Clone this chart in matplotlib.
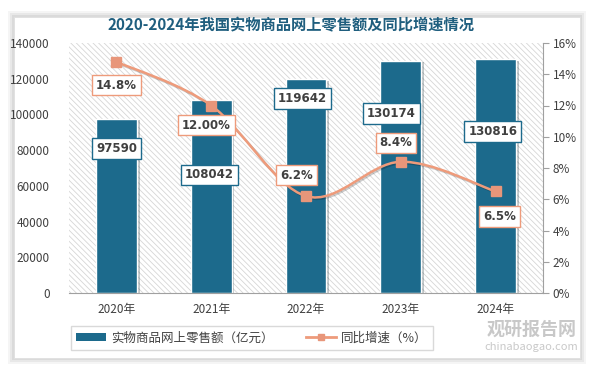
import matplotlib
matplotlib.use("Agg")
import matplotlib.pyplot as plt
from matplotlib.path import Path
from matplotlib.patches import PathPatch, FancyBboxPatch
import matplotlib.patheffects as pe
from matplotlib.lines import Line2D
from matplotlib.patches import Patch

plt.rcParams['font.family'] = ['Noto Sans CJK SC', 'DejaVu Sans']
plt.rcParams['hatch.linewidth'] = 0.6

years = ['2020年', '2021年', '2022年', '2023年', '2024年']
sales = [97590, 108042, 119642, 130174, 130816]
growth = [14.8, 12.0, 6.2, 8.4, 6.5]
growth_labels = ['14.8%', '12.00%', '6.2%', '8.4%', '6.5%']

# label placement (data units)
sales_lab_pos = [(0.0, 81000), (0.98, 66100), (1.96, 108900), (2.9, 100600), (3.97, 90500)]
growth_lab_pos = [(0.0, 13.3), (0.95, 10.75), (1.9, 7.55), (2.95, 9.6), (4.04, 4.9)]

bar_c = '#1C6A8C'
line_c = '#EE9B7B'
txt_c = '#404040'

fig = plt.figure(figsize=(5.94, 3.67), dpi=100)
fig.patch.set_facecolor('white')

# card with soft shadow
for i, a in enumerate([0.04, 0.05, 0.06]):
    d = (3 - i) * 2
    fig.patches.append(FancyBboxPatch((14 - d, 9 - d), 566 + 2 * d, 341 + 2 * d,
                                      boxstyle='square,pad=0', transform=None,
                                      facecolor='black', alpha=a, edgecolor='none', zorder=0))
fig.patches.append(FancyBboxPatch((14, 9), 566, 341, boxstyle='square,pad=0', transform=None,
                                  facecolor='white', edgecolor='#E0E0E0', lw=0.6, zorder=0.5))

ax = fig.add_axes([69 / 594, 1 - 293 / 367, 474 / 594, 250 / 367])
ax.set_zorder(1)
ax.patch.set_facecolor('white')
ax.patch.set_hatch('\\\\\\\\\\\\')
ax.patch.set_edgecolor('#D6D6D6')
ax.patch.set_linewidth(0)

x = list(range(len(years)))
bars = ax.bar(x, sales, width=0.43, color=bar_c, edgecolor='white', linewidth=1.0, zorder=2)
for b in bars:
    b.set_path_effects([pe.SimplePatchShadow(offset=(2, -1), alpha=0.25), pe.Normal()])

ax.set_xlim(-0.5, 4.5)
ax.set_ylim(0, 140000)
ax.set_yticks(range(0, 140001, 20000))
ax.set_xticks(x)
ax.set_xticklabels(years)
ax.tick_params(axis='y', length=0, labelsize=8.5, labelcolor=txt_c, pad=14)
ax.tick_params(axis='x', length=0, labelsize=8.5, labelcolor=txt_c, pad=7)
for s in ['top', 'right', 'left']:
    ax.spines[s].set_visible(False)
ax.spines['bottom'].set_color('#A0A0A0')

ax2 = ax.twinx()
ax2.set_ylim(0, 16)
ax2.set_yticks(range(0, 17, 2))
ax2.set_yticklabels([f'{v}%' for v in range(0, 17, 2)])
ax2.tick_params(axis='y', labelsize=8.5, labelcolor=txt_c, color='#A0A0A0', length=4, pad=3)
for s in ['top', 'left', 'bottom']:
    ax2.spines[s].set_visible(False)
ax2.spines['right'].set_color('#A0A0A0')

# smooth line through points (Catmull-Rom -> cubic Bezier)
pts = list(zip(x, growth))
verts = [pts[0]]
codes = [Path.MOVETO]
n = len(pts)
for i in range(n - 1):
    p0 = pts[i - 1] if i > 0 else pts[i]
    p1 = pts[i]
    p2 = pts[i + 1]
    p3 = pts[i + 2] if i + 2 < n else pts[i + 1]
    c1 = (p1[0] + (p2[0] - p0[0]) / 6, p1[1] + (p2[1] - p0[1]) / 6)
    c2 = (p2[0] - (p3[0] - p1[0]) / 6, p2[1] - (p3[1] - p1[1]) / 6)
    verts += [c1, c2, p2]
    codes += [Path.CURVE4] * 3
ax2.add_patch(PathPatch(Path(verts, codes), facecolor='none', edgecolor=line_c, lw=1.8, zorder=3,
                        path_effects=[pe.SimpleLineShadow(offset=(1, -1), alpha=0.2), pe.Normal()]))
ax2.plot(x, growth, linestyle='none', marker='s', markersize=7, color='#E8967A', zorder=4)

for (px, py), v in zip(sales_lab_pos, sales):
    ax.text(px, py, str(v), ha='center', va='center', fontsize=8.5, fontweight='bold', color=txt_c,
            family='DejaVu Sans', zorder=5,
            bbox=dict(boxstyle='square,pad=0.32', facecolor='white', edgecolor=bar_c, lw=1.0))
for (px, py), t in zip(growth_lab_pos, growth_labels):
    ax2.text(px, py, t, ha='center', va='center', fontsize=8.5, fontweight='bold', color=txt_c,
             family='DejaVu Sans', zorder=5,
             bbox=dict(boxstyle='square,pad=0.32', facecolor='white', edgecolor=line_c, lw=1.0))

fig.text(0.49, 1 - 25 / 367, '2020-2024年我国实物商品网上零售额及同比增速情况', ha='center', va='center',
         fontsize=11, fontweight='bold', color='#1F5E7E')

handles = [Patch(facecolor=bar_c, edgecolor='none'),
           Line2D([0], [0], color=line_c, lw=2, marker='s', markersize=5, markerfacecolor='#E8967A',
                  markeredgecolor='#E8967A')]
leg = fig.legend(handles, ['实物商品网上零售额（亿元）', '同比增速（%）'], loc='center',
                 bbox_to_anchor=(252 / 594, 1 - 338 / 367), ncol=2, fontsize=9, frameon=True,
                 fancybox=False, edgecolor='#D0D0D0', handlelength=2.4, handleheight=0.6,
                 handletextpad=0.4, columnspacing=2.6, borderpad=0.45)
for t in leg.get_texts():
    t.set_color(txt_c)

# watermark
fig.text(0.895, 1 - 329 / 367, '观研报告网', ha='center', va='center', fontsize=13, fontweight='bold',
         color='#BBBBBB', alpha=0.8)
fig.text(0.895, 1 - 347 / 367, 'chinabaogao.com', ha='center', va='center', fontsize=8,
         color='#BBBBBB', alpha=0.8)

fig.savefig('out.png', dpi=100)
